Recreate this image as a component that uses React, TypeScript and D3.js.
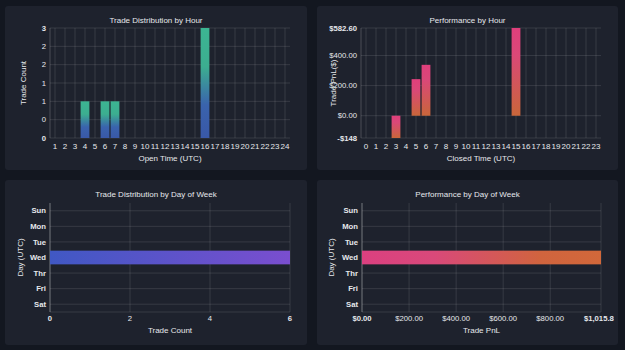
import React from 'react';
import * as d3 from 'd3';

// chart data
const openHours = d3.range(1, 25).map(String);
const openCounts = [0, 0, 0, 1, 0, 1, 1, 0, 0, 0, 0, 0, 0, 0, 0, 3, 0, 0, 0, 0, 0, 0, 0, 0];
const countTicks = [0, 0.5, 1, 1.5, 2, 2.5, 3];
const countTickLabels = ['0', '0', '1', '1', '2', '2', '3'];

const closedHours = d3.range(0, 24).map(String);
const closedPnl = [0, 0, 0, -148, 0, 243, 338, 0, 0, 0, 0, 0, 0, 0, 0, 582.6, 0, 0, 0, 0, 0, 0, 0, 0];
const pnlHourTicks = [-148, 0, 200, 400, 582.6];
const pnlHourTickLabels = ['-$148', '$0.00', '$200.00', '$400.00', '$582.60'];

const days = ['Sun', 'Mon', 'Tue', 'Wed', 'Thr', 'Fri', 'Sat'];
const dayCounts = [0, 0, 0, 6, 0, 0, 0];
const dayCountTicks = [0, 2, 4, 6];
const dayCountTickLabels = ['0', '2', '4', '6'];
const dayPnl = [0, 0, 0, 1015.8, 0, 0, 0];
const dayPnlTicks = [0, 200, 400, 600, 800, 1015.8];
const dayPnlTickLabels = ['$0.00', '$200.00', '$400.00', '$600.00', '$800.00', '$1,015.80'];

const FONT = '"Liberation Sans", Arial, Helvetica, sans-serif';
const GRID = 'rgba(255,255,255,0.11)';
const TXT = '#e6e8ec';

type VProps = {
  px: number; py: number; pw: number; ph: number;
  title: string; xTitle: string; yTitle: string;
  cats: string[]; vals: number[];
  ticks: number[]; tickLabels: string[];
  domain: [number, number];
  plot: { l: number; r: number; t: number; b: number };
  grad: string; yTitleX: number;
};

const VerticalPanel = (p: VProps) => {
  const x = d3.scaleBand().domain(p.cats).range([p.plot.l, p.plot.r]).paddingInner(0.12).paddingOuter(0.06);
  const y = d3.scaleLinear().domain(p.domain).range([p.plot.b, p.plot.t]);
  const cx = (c: string) => (x(c) as number) + x.bandwidth() / 2;
  const midX = (p.plot.l + p.plot.r) / 2;
  return (
    <g>
      <rect x={p.px} y={p.py} width={p.pw} height={p.ph} rx={3} fill="#1e222d" />
      <text x={p.px + p.pw / 2} y={p.py + 17} textAnchor="middle" fontSize={8} fill={TXT}>{p.title}</text>
      {p.ticks.map((t, i) => (
        <line key={'h' + i} x1={p.plot.l} x2={p.plot.r} y1={y(t)} y2={y(t)} stroke={GRID} />
      ))}
      {p.cats.map((c) => (
        <line key={'v' + c} x1={cx(c)} x2={cx(c)} y1={p.plot.t} y2={p.plot.b} stroke={GRID} />
      ))}
      <line x1={p.plot.l} x2={p.plot.l} y1={p.plot.t} y2={p.plot.b} stroke="rgba(255,255,255,0.2)" />
      {p.vals.map((v, i) => v === 0 ? null : (
        <rect key={'b' + i} x={x(p.cats[i])} width={x.bandwidth()}
          y={Math.min(y(v), y(0))} height={Math.abs(y(v) - y(0))} fill={`url(#${p.grad})`} />
      ))}
      {p.ticks.map((t, i) => (
        <text key={'yl' + i} x={p.plot.l - 4} y={y(t) + 2.7} textAnchor="end" fontSize={7.7}
          fontWeight={i === 0 || i === p.ticks.length - 1 ? 'bold' : 'normal'} fill={TXT}>{p.tickLabels[i]}</text>
      ))}
      {p.cats.map((c) => (
        <text key={'xl' + c} x={cx(c)} y={p.plot.b + 10.5} textAnchor="middle" fontSize={8} fill={TXT}>{c}</text>
      ))}
      <text x={midX} y={p.plot.b + 23} textAnchor="middle" fontSize={8} fill={TXT}>{p.xTitle}</text>
      <text transform={`translate(${p.yTitleX},${(p.plot.t + p.plot.b) / 2}) rotate(-90)`} textAnchor="middle"
        fontSize={8} fill={TXT}>{p.yTitle}</text>
    </g>
  );
};

type HProps = {
  px: number; py: number; pw: number; ph: number;
  title: string; xTitle: string; yTitle: string;
  vals: number[]; ticks: number[]; tickLabels: string[];
  domain: [number, number];
  plot: { l: number; r: number; t: number; b: number };
  grad: string; clip: string; yTitleX: number;
};

const HorizontalPanel = (p: HProps) => {
  const y = d3.scaleBand().domain(days).range([p.plot.t, p.plot.b]).paddingInner(0.12).paddingOuter(0.06);
  const x = d3.scaleLinear().domain(p.domain).range([p.plot.l, p.plot.r]);
  const cy = (d: string) => (y(d) as number) + y.bandwidth() / 2;
  const midX = (p.plot.l + p.plot.r) / 2;
  return (
    <g>
      <rect x={p.px} y={p.py} width={p.pw} height={p.ph} rx={3} fill="#1e222d" />
      <clipPath id={p.clip}><rect x={p.px} y={p.py} width={p.pw - 4} height={p.ph} /></clipPath>
      <text x={p.px + p.pw / 2} y={p.py + 17} textAnchor="middle" fontSize={8} fill={TXT}>{p.title}</text>
      {days.map((d) => (
        <line key={'h' + d} x1={p.plot.l} x2={p.plot.r} y1={cy(d)} y2={cy(d)} stroke={GRID} />
      ))}
      <line x1={p.plot.l} x2={p.plot.r} y1={p.plot.b} y2={p.plot.b} stroke={GRID} />
      {p.ticks.map((t, i) => (
        <line key={'v' + i} x1={x(t)} x2={x(t)} y1={p.plot.t} y2={p.plot.b} stroke={GRID} />
      ))}
      <line x1={p.plot.l} x2={p.plot.l} y1={p.plot.t} y2={p.plot.b} stroke="rgba(255,255,255,0.3)" />
      {p.vals.map((v, i) => v === 0 ? null : (
        <rect key={'b' + i} x={x(0)} width={x(v) - x(0)} y={y(days[i])} height={y.bandwidth()} fill={`url(#${p.grad})`} />
      ))}
      {days.map((d) => (
        <text key={'yl' + d} x={p.plot.l - 4} y={cy(d) + 2.7} textAnchor="end" fontSize={7.7} fontWeight="bold" fill={TXT}>{d}</text>
      ))}
      <g clipPath={`url(#${p.clip})`}>
        {p.ticks.map((t, i) => (
          <text key={'xl' + i} x={x(t)} y={p.plot.b + 9} textAnchor="middle" fontSize={7.7}
            fontWeight={i === 0 || i === p.ticks.length - 1 ? 'bold' : 'normal'} fill={TXT}>{p.tickLabels[i]}</text>
        ))}
      </g>
      <text x={midX} y={p.plot.b + 21} textAnchor="middle" fontSize={8} fill={TXT}>{p.xTitle}</text>
      <text transform={`translate(${p.yTitleX},${(p.plot.t + p.plot.b) / 2}) rotate(-90)`} textAnchor="middle"
        fontSize={8} fill={TXT}>{p.yTitle}</text>
    </g>
  );
};

export default function App() {
  return (
    <>
      <style>{'body{margin:0;background:#131720}'}</style>
      <svg width={625} height={350} style={{ display: 'block', fontFamily: FONT }}>
        <defs>
          <linearGradient id="gGreenBlue" x1="0" y1="0" x2="0" y2="1">
            <stop offset="0" stopColor="#3cb592" />
            <stop offset="0.35" stopColor="#3cae90" />
            <stop offset="0.7" stopColor="#3a63ad" />
            <stop offset="1" stopColor="#3958a8" />
          </linearGradient>
          <linearGradient id="gPinkOrange" x1="0" y1="0" x2="0" y2="1">
            <stop offset="0" stopColor="#df3f7c" />
            <stop offset="0.3" stopColor="#da4878" />
            <stop offset="1" stopColor="#c9663a" />
          </linearGradient>
          <linearGradient id="gBluePurple" x1="0" y1="0" x2="1" y2="0">
            <stop offset="0" stopColor="#4058c4" />
            <stop offset="1" stopColor="#7a4ecf" />
          </linearGradient>
          <linearGradient id="gPinkOrangeH" x1="0" y1="0" x2="1" y2="0">
            <stop offset="0" stopColor="#db4080" />
            <stop offset="0.3" stopColor="#d9497a" />
            <stop offset="0.75" stopColor="#d0643e" />
            <stop offset="1" stopColor="#d2683a" />
          </linearGradient>
        </defs>
        <rect width={625} height={350} fill="#131720" />
        <VerticalPanel px={5} py={6} pw={302} ph={164}
          title="Trade Distribution by Hour" xTitle="Open Time (UTC)" yTitle="Trade Count"
          cats={openHours} vals={openCounts} ticks={countTicks} tickLabels={countTickLabels}
          domain={[0, 3]} plot={{ l: 50, r: 290, t: 28, b: 138 }} grad="gGreenBlue" yTitleX={26} />
        <VerticalPanel px={317} py={6} pw={301} ph={164}
          title="Performance by Hour" xTitle="Closed Time (UTC)" yTitle="Trade PnL($)"
          cats={closedHours} vals={closedPnl} ticks={pnlHourTicks} tickLabels={pnlHourTickLabels}
          domain={[-148, 582.6]} plot={{ l: 361, r: 601, t: 28, b: 138 }} grad="gPinkOrange" yTitleX={336} />
        <HorizontalPanel px={5} py={180} pw={302} ph={165}
          title="Trade Distribution by Day of Week" xTitle="Trade Count" yTitle="Day (UTC)"
          vals={dayCounts} ticks={dayCountTicks} tickLabels={dayCountTickLabels}
          domain={[0, 6]} plot={{ l: 50, r: 290, t: 203, b: 312 }} grad="gBluePurple" clip="clipA" yTitleX={23} />
        <HorizontalPanel px={317} py={180} pw={301} ph={165}
          title="Performance by Day of Week" xTitle="Trade PnL" yTitle="Day (UTC)"
          vals={dayPnl} ticks={dayPnlTicks} tickLabels={dayPnlTickLabels}
          domain={[0, 1015.8]} plot={{ l: 362, r: 601, t: 203, b: 312 }} grad="gPinkOrangeH" clip="clipB" yTitleX={334} />
      </svg>
    </>
  );
}
